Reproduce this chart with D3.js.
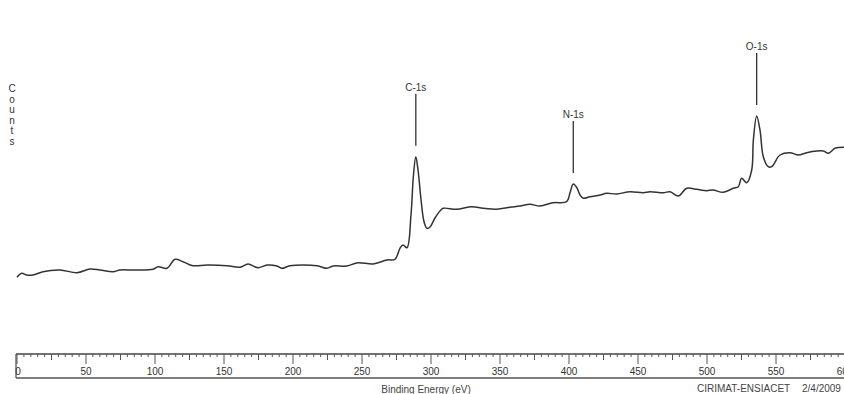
<!DOCTYPE html>
<html><head><meta charset="utf-8">
<script src="https://cdn.jsdelivr.net/npm/d3@7"></script>
<style>
html,body{margin:0;padding:0;background:#fff;}
svg{display:block;font-family:"Liberation Sans",Arial,sans-serif;}
</style></head>
<body><svg id="chart" width="844" height="394"></svg>
<script>
// Binding energy (eV) and counts (arbitrary units)
const bindingEnergy = [0,3.4,7.0,11.6,18.8,31.2,43.5,52.9,60.1,69.6,74.6,84.1,98.6,102.2,108.7,114.5,120.3,127.5,137.7,152.2,161.6,167.4,174.6,181.2,188.4,192.0,197.8,217.4,224.6,229.0,239.1,247.1,258.0,268.1,273.9,277.5,279.7,282.6,285.5,287.3,289.0,290.6,292.8,295.0,297.1,299.3,302.9,306.5,308.9,318.6,329.5,337.7,347.6,357.2,364.5,371.7,379.0,388.4,398.3,400.7,403.1,405.8,408.0,410.4,415.2,422.5,427.3,434.6,444.2,453.8,458.7,468.3,473.2,479.2,485.3,492.5,499.8,504.3,511.8,519.1,522.7,525.1,528.8,532.4,533.6,536.0,538.4,540.8,544.4,546.9,552.9,560.1,566.2,572.2,579.5,584.3,588.0,592.8,600];
const counts = [1270,1670,1500,1500,1830,2000,1730,2100,2000,1830,2000,2000,2070,2330,2170,3070,2830,2430,2500,2430,2270,2600,2230,2500,2400,2170,2430,2430,2170,2400,2400,2730,2600,3000,3070,4170,4500,4230,7500,11500,13330,12000,9000,6800,6170,6300,7200,7900,8170,8070,8330,8170,8070,8270,8400,8570,8400,8730,8830,9700,10600,10200,9500,9170,9330,9500,9670,9600,9830,9730,9830,9730,9830,9400,10170,10070,9930,10000,9770,10170,10330,11170,10730,12000,15000,17400,16000,13330,12330,12330,13500,13730,13500,13730,13900,13900,13670,14170,14270];
const peakNames = ["C-1s","N-1s","O-1s"];
const peakEnergies = [289.0,403.1,536.0];
const majorTicks = [0,50,100,150,200,250,300,350,400,450,500,550,600];
const xTitle = "Binding Energy (eV)";
const yTitle = "Counts";
const footerLab = "CIRIMAT-ENSIACET";
const footerDate = "2/4/2009";

const svg = d3.select("#chart");
const x = d3.scaleLinear().domain([0,600]).range([17,845]);
const y = d3.scaleLinear().domain([0,29000]).range([290,0]);

// spectrum
const pts = bindingEnergy.map((e,i)=>[e,counts[i]]);
svg.append("path").datum(pts)
  .attr("fill","none").attr("stroke","#333").attr("stroke-width",1.5)
  .attr("stroke-linejoin","round")
  .attr("d", d3.line().x(d=>x(d[0])).y(d=>y(d[1])).curve(d3.curveCatmullRom.alpha(0.5)));

// peak markers
peakNames.forEach((name,i)=>{
  const e = peakEnergies[i];
  const c = counts[bindingEnergy.indexOf(e)];
  const px = x(e), py = y(c);
  svg.append("line").attr("x1",px).attr("x2",px).attr("y1",py-11).attr("y2",py-63)
    .attr("stroke","#333").attr("stroke-width",1.3);
  svg.append("text").attr("x",px).attr("y",py-66).attr("text-anchor","middle")
    .attr("font-size",10).attr("fill","#333").text(name);
});

// y title: stacked letters
const yt = svg.append("text").attr("font-size",10).attr("fill","#333").attr("text-anchor","middle");
yTitle.split("").forEach((ch,i)=>{
  yt.append("tspan").attr("x",12).attr("y",92+i*10.6).text(ch);
});

// ruler axis box
const axTop = 354, axBot = 378;
const ax = svg.append("g");
ax.append("line").attr("x1",16).attr("x2",844).attr("y1",axTop).attr("y2",axTop).attr("stroke","#444").attr("stroke-width",1.3);
ax.append("line").attr("x1",16).attr("x2",844).attr("y1",axBot).attr("y2",axBot).attr("stroke","#555").attr("stroke-width",1.3);
ax.append("line").attr("x1",16).attr("x2",16).attr("y1",axTop).attr("y2",axBot).attr("stroke","#555").attr("stroke-width",1.3);

const minor = d3.range(0,601,5);
ax.selectAll("line.tk").data(minor).enter().append("line").attr("class","tk")
  .attr("x1",d=>x(d)).attr("x2",d=>x(d)).attr("y1",axTop)
  .attr("y2",d=> d%50===0 ? axTop+10 : (d%25===0 ? axTop+6 : axTop+3))
  .attr("stroke","#555").attr("stroke-width",1);

ax.selectAll("text.tl").data(majorTicks).enter().append("text").attr("class","tl")
  .attr("x",d=>x(d)+(d===0?1:0)).attr("y",axTop+21).attr("text-anchor","middle")
  .attr("font-size",10).attr("fill","#333").text(d=>d);

svg.append("text").attr("x",426).attr("y",393).attr("text-anchor","middle")
  .attr("font-size",10).attr("fill","#444").text(xTitle);
svg.append("text").attr("x",697).attr("y",392)
  .attr("font-size",10).attr("fill","#444").text(footerLab);
svg.append("text").attr("x",802).attr("y",392)
  .attr("font-size",10).attr("fill","#444").text(footerDate);
</script></body></html>
